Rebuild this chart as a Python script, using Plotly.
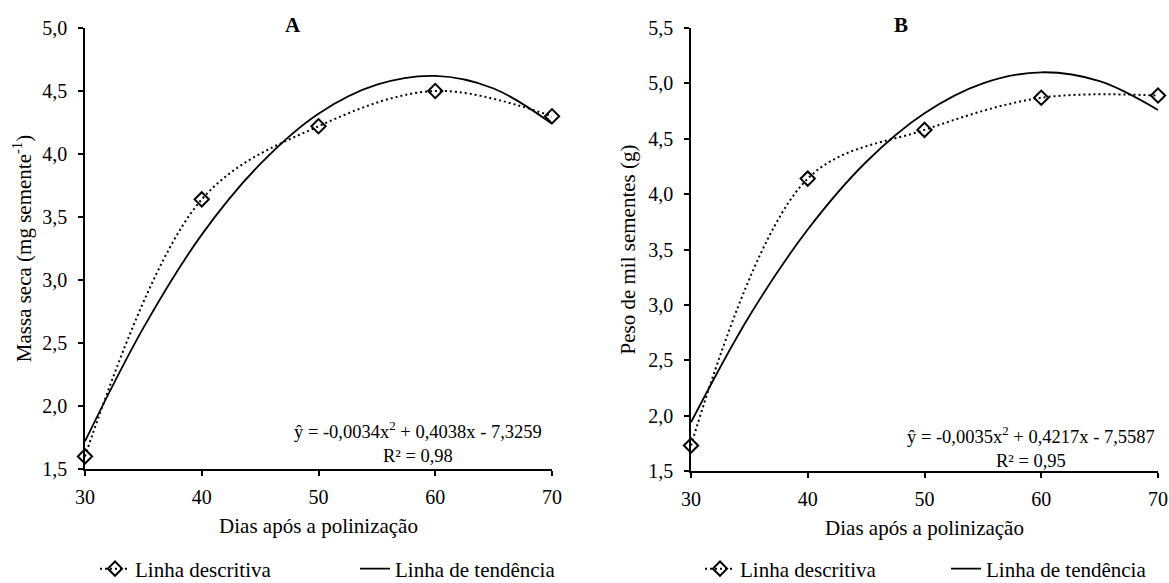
import plotly.graph_objects as go

# ---- data ----
days = [30, 40, 50, 60, 70]
massa_seca = [1.60, 3.64, 4.22, 4.50, 4.30]          # panel A, descriptive line
peso_mil = [1.73, 4.14, 4.58, 4.87, 4.89]            # panel B, descriptive line

trend_days = [30, 35, 40, 45, 50, 55, 60, 65, 70]
trend_a = [1.72, 2.62, 3.36, 3.92, 4.32, 4.55, 4.62, 4.52, 4.24]
trend_b = [1.94, 2.90, 3.68, 4.29, 4.73, 5.00, 5.10, 5.02, 4.76]

x_ticks = [30, 40, 50, 60, 70]
ya_ticks = [1.5, 2.0, 2.5, 3.0, 3.5, 4.0, 4.5, 5.0]
yb_ticks = [1.5, 2.0, 2.5, 3.0, 3.5, 4.0, 4.5, 5.0, 5.5]

name_desc = "Linha descritiva"
name_trend = "Linha de tendência"
eq_a = "ŷ = -0,0034x<sup>2</sup> + 0,4038x - 7,3259<br>R² = 0,98"
eq_b = "ŷ = -0,0035x<sup>2</sup> + 0,4217x - 7,5587<br>R² = 0,95"

FONT = "Liberation Serif"
W, H = 1169, 583

fig = go.Figure()

def add_panel(xa, ya, leg_desc, leg_trend, yvals, tvals):
    fig.add_trace(go.Scatter(
        x=days, y=yvals, xaxis=xa, yaxis=ya, legend=leg_desc, name=name_desc,
        mode="lines+markers", cliponaxis=False,
        line=dict(color="black", width=2, dash="2px,3px", shape="spline", smoothing=1.0),
        marker=dict(symbol="diamond-open", size=11, color="black", line=dict(width=2, color="black")),
    ))
    fig.add_trace(go.Scatter(
        x=trend_days, y=tvals, xaxis=xa, yaxis=ya, legend=leg_trend, name=name_trend,
        mode="lines", cliponaxis=False,
        line=dict(color="black", width=1.8, shape="spline"),
    ))

add_panel("x", "y", "legend", "legend2", massa_seca, trend_a)
add_panel("x2", "y2", "legend3", "legend4", peso_mil, trend_b)

axis_common = dict(
    showline=True, linecolor="black", linewidth=1.5, showgrid=False, zeroline=False,
    ticks="outside", ticklen=5, tickwidth=1.5, tickcolor="black", automargin=False,
    tickfont=dict(family=FONT, size=20, color="black"), mirror=False,
)

xa_dom = [85 / W, 552 / W]
xb_dom = [691 / W, 1158 / W]
ya_dom = [1 - 469 / H, 1 - 28 / H]
yb_dom = [1 - 471 / H, 1 - 28 / H]

def leg(xpix):
    return dict(orientation="h", x=xpix / W, xanchor="left", y=1 - 569 / H, yanchor="middle",
                font=dict(family=FONT, size=21, color="black"), bgcolor="rgba(0,0,0,0)")

fig.update_layout(
    width=W, height=H,
    margin=dict(l=0, r=0, t=0, b=0, autoexpand=False),
    paper_bgcolor="white", plot_bgcolor="white",
    font=dict(family=FONT, size=20, color="black"),
    xaxis=dict(domain=xa_dom, anchor="y", range=[30, 70], tickvals=x_ticks, ticklabelstandoff=4,
               title=dict(text="Dias após a polinização", font=dict(family=FONT, size=21), standoff=12), **axis_common),
    yaxis=dict(domain=ya_dom, anchor="x", range=[1.5, 5.0], tickvals=ya_ticks, ticklabelstandoff=7,
               ticktext=[f"{v:.1f}".replace(".", ",") for v in ya_ticks],
               title=dict(text="Massa seca (mg semente<sup>-1</sup>)", font=dict(family=FONT, size=21), standoff=5), **axis_common),
    xaxis2=dict(domain=xb_dom, anchor="y2", range=[30, 70], tickvals=x_ticks, ticklabelstandoff=4,
                title=dict(text="Dias após a polinização", font=dict(family=FONT, size=21), standoff=12), **axis_common),
    yaxis2=dict(domain=yb_dom, anchor="x2", range=[1.5, 5.5], tickvals=yb_ticks, ticklabelstandoff=7,
                ticktext=[f"{v:.1f}".replace(".", ",") for v in yb_ticks],
                title=dict(text="Peso de mil sementes (g)", font=dict(family=FONT, size=21), standoff=7), **axis_common),
    legend=leg(95), legend2=leg(355), legend3=leg(700), legend4=leg(946),
    showlegend=True,
)

fig.add_annotation(text="<b>A</b>", xref="x domain", yref="paper", x=(293 - 85) / (552 - 85), y=1 - 25 / H,
                   showarrow=False, font=dict(family=FONT, size=21), xanchor="center", yanchor="middle")
fig.add_annotation(text="<b>B</b>", xref="x2 domain", yref="paper", x=(901 - 691) / (1158 - 691), y=1 - 25 / H,
                   showarrow=False, font=dict(family=FONT, size=21), xanchor="center", yanchor="middle")
fig.add_annotation(text=eq_a, xref="x domain", yref="y domain", x=(418 - 85) / (552 - 85), y=(469 - 442) / (469 - 28),
                   showarrow=False, font=dict(family=FONT, size=18.5), xanchor="center", yanchor="middle", align="center")
fig.add_annotation(text=eq_b, xref="x2 domain", yref="y2 domain", x=(1031 - 691) / (1158 - 691), y=(471 - 447) / (471 - 28),
                   showarrow=False, font=dict(family=FONT, size=18.5), xanchor="center", yanchor="middle", align="center")

fig.write_html("out.html")
